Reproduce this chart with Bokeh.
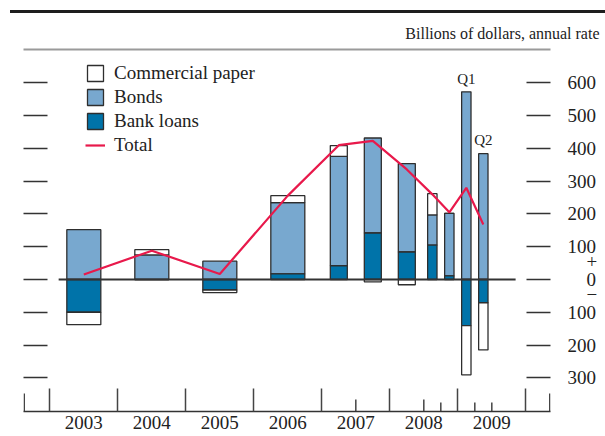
from bokeh.plotting import figure
from bokeh.models import (Range1d, LinearAxis, FixedTicker, Legend, LegendItem,
                          Div, ColumnDataSource)
from bokeh.layouts import column
from bokeh.embed import file_html
from bokeh.resources import INLINE
from bokeh.core.properties import value

# ---------------- data (billions of dollars, annual rate) ----------------
PERIOD_LABELS = ["2003", "2004", "2005", "2006", "2007 H1", "2007 H2",
                 "2008 H1", "2008 Q3", "2008 Q4", "2009 Q1", "2009 Q2"]
PERIOD_START = [2003, 2004, 2005, 2006, 2007, 2007.5, 2008, 2008.5, 2008.75, 2009, 2009.25]
PERIOD_SPAN = [1, 1, 1, 1, 0.5, 0.5, 0.5, 0.25, 0.25, 0.25, 0.25]
BANK_LOANS = [-100, 0, -32, 17, 42, 142, 84, 105, 11, -141, -71]
BONDS = [152, 75, 56, 218, 334, 290, 270, 92, 191, 573, 384]
COMMERCIAL_PAPER = [-38, 16, -8, 21, 33, -7, -16, 65, 0, -150, -144]
TOTAL = [15, 88, 17, 256, 410, 423, 336, 260, 205, 280, 168]

YEARS = [2003, 2004, 2005, 2006, 2007, 2008, 2009]
YEAR_BOUNDARIES = [2003, 2004, 2005, 2006, 2007, 2008, 2009, 2010]
SUB_TICKS = [2007.5, 2008.5, 2008.75, 2009.25, 2009.5]
SUB_TICK_PX = [12, 12, 9, 9, 9]
Y_TICKS = [-300, -200, -100, 0, 100, 200, 300, 400, 500, 600]
SIGN_TICKS = [55, -46]
SIGN_TEXT = ["+", "\u2212"]
Q_LABELS = {"2009 Q1": "Q1", "2009 Q2": "Q2"}
ZERO_LINE_X = [2003.13, 2009.85]

# ---------------- geometry / style ----------------
X0, X1 = 2002.613, 2010.363
Y0, Y1 = -403.0, 702.2
PX_PER_UNIT_X = 68.0
PX_PER_UNIT = 0.32756
EDGE_TICK_PX = 18
BAR_WIDTH_BY_SPAN = {1: 0.5, 0.5: 0.25, 0.25: 0.138}
FONT = "Liberation Serif"
INK = "#222222"
LIGHT_BLUE = "#78A8CF"
DARK_BLUE = "#0073A9"
RED = "#E8194B"
OUTLINE = "#2e2e2e"
FIG = "\u2007"  # figure space, used to right-align short labels

centers = [s + w / 2 for s, w in zip(PERIOD_START, PERIOD_SPAN)]
widths = [BAR_WIDTH_BY_SPAN[w] for w in PERIOD_SPAN]

# stacking: bank loans nearest zero, then bonds, then commercial paper
stacks = {"bank": ([], []), "bonds": ([], []), "cp": ([], [])}
pos_tops = []
for i in range(len(PERIOD_LABELS)):
    pos, neg = 0.0, 0.0
    for key, series in (("bank", BANK_LOANS), ("bonds", BONDS), ("cp", COMMERCIAL_PAPER)):
        v = series[i]
        if v >= 0:
            b, t = pos, pos + v
            pos += v
        else:
            b, t = neg + v, neg
            neg += v
        stacks[key][0].append(b)
        stacks[key][1].append(t)
    pos_tops.append(pos)


def src(key):
    b, t = stacks[key]
    return ColumnDataSource(dict(
        left=[c - w / 2 for c, w in zip(centers, widths)],
        right=[c + w / 2 for c, w in zip(centers, widths)],
        bottom=b, top=t))


p = figure(width=605, height=423, x_range=Range1d(X0, X1), y_range=Range1d(Y0, Y1),
           output_backend="svg", toolbar_location=None,
           x_axis_type=None, y_axis_type=None,
           min_border_left=23, min_border_right=55, min_border_top=36, min_border_bottom=25,
           title="Billions of dollars, annual rate")
p.outline_line_color = None
p.background_fill_color = "white"
p.border_fill_color = "white"

p.title.align = "right"
p.title.offset = -49
p.title.standoff = 16
p.title.text_font = FONT
p.title.text_font_size = "16px"
p.title.text_font_style = "normal"
p.title.text_color = INK

# gray rule at the top of the frame
top_axis = LinearAxis(ticker=FixedTicker(ticks=[]), axis_line_color="#9a9a9a",
                      axis_line_width=2, major_tick_line_color=None,
                      minor_tick_line_color=None, major_label_text_color=None,
                      major_label_standoff=0)
p.add_layout(top_axis, "above")

blank = {v: "" for v in Y_TICKS}
tick_kw = dict(ticker=FixedTicker(ticks=Y_TICKS), axis_line_color=None,
               major_tick_in=24, major_tick_out=0, major_tick_line_color="#333333",
               major_tick_line_width=1.3, minor_tick_line_color=None,
               major_label_overrides=blank, major_label_text_color=None,
               major_label_standoff=0)
p.add_layout(LinearAxis(**tick_kw), "left")
p.add_layout(LinearAxis(**tick_kw), "right")

# right-hand scale labels (numbers shown without sign; + and - around zero)
label_map = {v: (FIG * 2 + "0" if v == 0 else str(abs(v))) for v in Y_TICKS}
label_map.update({v: FIG * 2 + t for v, t in zip(SIGN_TICKS, SIGN_TEXT)})
right_labels = LinearAxis(ticker=FixedTicker(ticks=Y_TICKS + SIGN_TICKS),
                          axis_line_color=None, major_tick_line_color=None,
                          minor_tick_line_color=None, major_tick_in=0, major_tick_out=0,
                          major_label_overrides=label_map, major_label_standoff=17,
                          major_label_text_font=FONT, major_label_text_font_size="19px",
                          major_label_text_color=INK)
p.add_layout(right_labels, "right")

# bottom axis: year labels at centres, year boundary ticks as minor ticks
year_centers = [y + 0.5 for y in YEARS]
bottom_axis = LinearAxis(
    ticker=FixedTicker(ticks=year_centers, minor_ticks=YEAR_BOUNDARIES),
    major_label_overrides={c: str(y) for c, y in zip(year_centers, YEARS)},
    major_tick_line_color=None, major_tick_in=0, major_tick_out=0,
    minor_tick_in=23, minor_tick_out=0, minor_tick_line_color="#444444",
    minor_tick_line_width=1.5, axis_line_color="#333333", axis_line_width=1.5,
    major_label_standoff=4, major_label_text_font=FONT,
    major_label_text_font_size="19px", major_label_text_color=INK)
p.add_layout(bottom_axis, "below")

# shorter ticks inside years, and the two end ticks
sub_x = SUB_TICKS + [X0 + 0.75 / PX_PER_UNIT_X, X1 - 0.75 / PX_PER_UNIT_X]
sub_h = SUB_TICK_PX + [EDGE_TICK_PX, EDGE_TICK_PX]
p.segment(x0=sub_x, x1=sub_x, y0=[Y0] * len(sub_x),
          y1=[Y0 + h / PX_PER_UNIT for h in sub_h],
          line_color="#444444", line_width=1.5)

# bars
bar_kw = dict(line_color=OUTLINE, line_width=1.3)
r_bonds = p.quad(source=src("bonds"), fill_color=LIGHT_BLUE, **bar_kw)
r_bank = p.quad(source=src("bank"), fill_color=DARK_BLUE, **bar_kw)
r_cp = p.quad(source=src("cp"), fill_color="white", **bar_kw)

p.line(ZERO_LINE_X, [0, 0], line_color="#333333", line_width=2)

r_total = p.line(centers, TOTAL, line_color=RED, line_width=2.2)

# Q1 / Q2 labels above bars
q_idx = [PERIOD_LABELS.index(k) for k in Q_LABELS]
p.text(x=[centers[i] for i in q_idx], y=[pos_tops[i] + 16 for i in q_idx],
       text=list(Q_LABELS.values()), text_font=value(FONT), text_font_size="15px",
       text_align="center", text_baseline="bottom", text_color=INK)

legend = Legend(items=[LegendItem(label="Commercial paper", renderers=[r_cp]),
                       LegendItem(label="Bonds", renderers=[r_bonds]),
                       LegendItem(label="Bank loans", renderers=[r_bank]),
                       LegendItem(label="Total", renderers=[r_total])],
                location=(62, 255), glyph_width=20, glyph_height=20, spacing=2,
                label_standoff=9, padding=0, margin=0, border_line_color=None,
                background_fill_alpha=0, label_text_font=FONT,
                label_text_font_size="19px", label_text_color=INK, label_height=20)
p.add_layout(legend, "center")

rule = Div(width=595, height=13, margin=(0, 0, 0, 10),
           styles={"box-sizing": "border-box", "border-bottom": "3px solid #1e1e1e"})

layout = column(rule, p, spacing=0)
open("out.html", "w").write(file_html(layout, INLINE))
